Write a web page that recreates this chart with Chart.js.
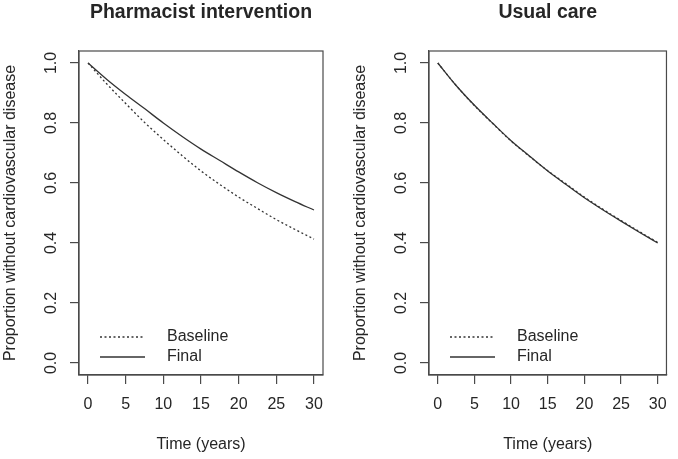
<!DOCTYPE html>
<html>
<head>
<meta charset="utf-8">
<script src="https://cdn.jsdelivr.net/npm/chart.js@4/dist/chart.umd.min.js"></script>
<style>
  html, body { margin: 0; padding: 0; background: #fff; }
  .panel { position: absolute; top: 0; width: 339px; height: 459px; }
  #left { left: 0; }
  #right { left: 339px; }
</style>
</head>
<body>
<div class="panel" id="left"><canvas id="chartPharm"></canvas></div>
<div class="panel" id="right"><canvas id="chartUsual"></canvas></div>
<script>
// valores (proporcion sin enfermedad cardiovascular)
const years = [0, 2.5, 5, 7.5, 10, 12.5, 15, 17.5, 20, 22.5, 25, 27.5, 30];

const pharmBaseline = [1.0, 0.930, 0.865, 0.802, 0.745, 0.691, 0.640, 0.595, 0.553, 0.515, 0.478, 0.445, 0.413];
const pharmFinal    = [1.0, 0.945, 0.895, 0.848, 0.800, 0.755, 0.713, 0.675, 0.637, 0.601, 0.568, 0.538, 0.510];

const usualBaseline = [1.0, 0.925, 0.858, 0.798, 0.740, 0.689, 0.641, 0.597, 0.553, 0.513, 0.475, 0.438, 0.402];
const usualFinal    = [1.0, 0.925, 0.859, 0.799, 0.741, 0.690, 0.640, 0.595, 0.551, 0.511, 0.473, 0.436, 0.400];

const xTicks = [0, 5, 10, 15, 20, 25, 30];
const yTicks = [0, 0.2, 0.4, 0.6, 0.8, 1.0];

const FONT = "'Liberation Sans', Arial, Helvetica, sans-serif";
const TEXT = '#262626';
const AXIS = '#4a4a4a';
const LINE = '#333333';

// caja alrededor del area de trazado + leyenda estilo R
const boxAndLegend = {
    id: 'boxAndLegend',
    afterDraw(chart) {
        const { ctx, chartArea: a } = chart;
        ctx.save();
        ctx.strokeStyle = AXIS;
        ctx.lineWidth = 1.2;
        ctx.strokeRect(a.left, a.top, a.right - a.left, a.bottom - a.top);

        // leyenda en la esquina inferior izquierda
        ctx.font = '16px ' + FONT;
        ctx.textBaseline = 'middle';
        ctx.fillStyle = TEXT;
        chart.data.datasets.forEach((ds, i) => {
            const y = a.bottom - 38 + i * 20;
            ctx.beginPath();
            ctx.strokeStyle = ds.borderColor;
            ctx.lineWidth = ds.borderWidth;
            ctx.setLineDash(ds.borderDash || []);
            ctx.moveTo(a.left + 21, y);
            ctx.lineTo(a.left + 66, y);
            ctx.stroke();
            ctx.setLineDash([]);
            ctx.fillText(ds.label, a.left + 88, y);
        });
        ctx.restore();
    }
};

function toPoints(values) {
    return years.map((t, i) => ({ x: t, y: values[i] }));
}

function makePanel(canvasId, title, baseline, final, axisWidth, padRight, yTitlePad) {
    const ctx = document.getElementById(canvasId).getContext('2d');
    return new Chart(ctx, {
        type: 'line',
        data: {
            datasets: [
                {
                    label: 'Baseline',
                    data: toPoints(baseline),
                    borderColor: LINE,
                    borderWidth: 1.3,
                    borderDash: [2, 2.5],
                    pointRadius: 0,
                    cubicInterpolationMode: 'monotone',
                    fill: false
                },
                {
                    label: 'Final',
                    data: toPoints(final),
                    borderColor: LINE,
                    borderWidth: 1.3,
                    pointRadius: 0,
                    cubicInterpolationMode: 'monotone',
                    fill: false
                }
            ]
        },
        options: {
            responsive: true,
            maintainAspectRatio: false,
            animation: false,
            layout: { padding: { top: 0, left: 0, right: padRight, bottom: 0 } },
            plugins: {
                legend: { display: false },
                tooltip: { enabled: false },
                title: {
                    display: true,
                    text: title,
                    fullSize: false,
                    color: TEXT,
                    font: { family: FONT, size: 19.5, weight: 'bold' },
                    padding: { top: 0.5, bottom: 27.1 }
                }
            },
            scales: {
                x: {
                    type: 'linear',
                    min: -1.2,
                    max: 31.2,
                    afterBuildTicks: s => { s.ticks = xTicks.map(v => ({ value: v })); },
                    afterFit: s => { s.height = 84; },
                    grid: { drawOnChartArea: false, drawTicks: true, tickLength: 9, color: AXIS, lineWidth: 1.2 },
                    border: { display: true, color: AXIS, width: 1.2 },
                    ticks: {
                        color: TEXT,
                        font: { family: FONT, size: 16 },
                        padding: 11,
                        maxRotation: 0,
                        callback: v => String(v)
                    },
                    title: {
                        display: true,
                        text: 'Time (years)',
                        color: TEXT,
                        font: { family: FONT, size: 16 },
                        padding: { top: 0, bottom: 4.4 }
                    }
                },
                y: {
                    type: 'linear',
                    min: -0.04,
                    max: 1.04,
                    afterBuildTicks: s => { s.ticks = yTicks.map(v => ({ value: v })); },
                    afterFit: s => { s.width = axisWidth; },
                    grid: { drawOnChartArea: false, drawTicks: true, tickLength: 9, color: AXIS, lineWidth: 1.2 },
                    border: { display: true, color: AXIS, width: 1.2 },
                    ticks: {
                        color: TEXT,
                        font: { family: FONT, size: 16 },
                        padding: 7,
                        minRotation: 90,
                        maxRotation: 90,
                        crossAlign: 'center',
                        callback: v => Number(v).toFixed(1)
                    },
                    title: {
                        display: true,
                        text: 'Proportion without cardiovascular disease',
                        color: TEXT,
                        font: { family: FONT, size: 16 },
                        padding: { top: yTitlePad, bottom: 0 }
                    }
                }
            }
        },
        plugins: [boxAndLegend]
    });
}

makePanel('chartPharm', 'Pharmacist intervention', pharmBaseline, pharmFinal, 79, 16, 1.4);
makePanel('chartUsual', 'Usual care', usualBaseline, usualFinal, 90, 5, 12.4);
</script>
</body>
</html>
